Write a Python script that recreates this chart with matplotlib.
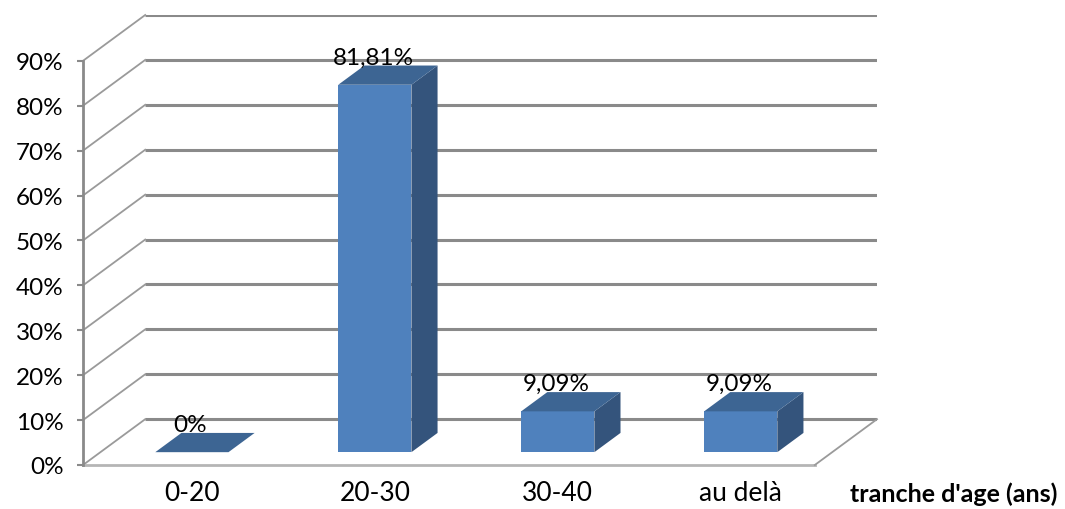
import matplotlib
matplotlib.use("Agg")
from matplotlib import pyplot as plt
from matplotlib.patches import Polygon

categories = ["0-20", "20-30", "30-40", "au delà"]
values = [0, 81.81, 9.09, 9.09]
value_labels = ["0%", "81,81%", "9,09%", "9,09%"]
yticks = [0, 10, 20, 30, 40, 50, 60, 70, 80, 90]
ytick_labels = ["0%", "10%", "20%", "30%", "40%", "50%", "60%", "70%", "80%", "90%"]
xlabel = "tranche d'age (ans)"

plt.rcParams['font.family'] = ['Lato', 'DejaVu Sans']

# fake 3D geometry (category units / percent units)
depth_x, depth_y = 0.34, 10.2
front_d, back_d = 0.28, 0.70
bar_w = 0.40
n = len(categories)

fig = plt.figure(figsize=(10.65, 5.10), dpi=100)
W, H = 1065, 510
ax = fig.add_axes([83 / W, (H - 466) / H, (877 - 83) / W, (466 - 16) / H])
ax.set_xlim(0, n + depth_x)
ax.set_ylim(0, 90 + depth_y)

grid_c = "#8a8a8a"
# back wall gridlines and side-wall diagonals
for t in yticks:
    ax.plot([depth_x, n + depth_x], [t + depth_y, t + depth_y], color=grid_c, lw=2.2, zorder=1,
            solid_capstyle="butt")
    ax.plot([0, depth_x], [t, t + depth_y], color="#9a9a9a", lw=1.3, zorder=1, clip_on=False)
# floor edges
ax.plot([0, n], [0, 0], color="#b5b5b5", lw=2, zorder=1, clip_on=False)
ax.plot([n, n + depth_x], [0, depth_y], color="#9a9a9a", lw=1.3, zorder=1, clip_on=False)

# bars
centers = [i + 0.5 + front_d * depth_x for i in range(n)]
fx, fy = front_d * depth_x, front_d * depth_y
bx, by = back_d * depth_x, back_d * depth_y
bars = ax.bar(centers, values, width=bar_w, bottom=fy, color="#4f81bd", zorder=3)
for b, v in zip(bars, values):
    x0 = b.get_x()
    x1 = x0 + b.get_width()
    y0 = fy
    y1 = fy + v
    ddx, ddy = bx - fx, by - fy
    side = Polygon([(x1, y0), (x1 + ddx, y0 + ddy), (x1 + ddx, y1 + ddy), (x1, y1)],
                   closed=True, facecolor="#34547c", edgecolor="none", zorder=2)
    top = Polygon([(x0, y1), (x0 + ddx, y1 + ddy), (x1 + ddx, y1 + ddy), (x1, y1)],
                  closed=True, facecolor="#3d6593", edgecolor="none", zorder=4)
    ax.add_patch(side)
    ax.add_patch(top)

for c, v, lab in zip(centers, values, value_labels):
    ax.annotate(lab, (c - 0.01, v + fy), xytext=(0, 20), textcoords="offset points",
                ha="center", va="center", fontsize=17.5, zorder=5)

# axes styling
for s in ["top", "right", "bottom"]:
    ax.spines[s].set_visible(False)
ax.spines["left"].set_bounds(0, 90)
ax.spines["left"].set_color(grid_c)
ax.spines["left"].set_linewidth(2)
ax.set_yticks(yticks, ytick_labels)
ax.tick_params(axis="y", length=4, width=1.5, color=grid_c, labelsize=17.5, pad=10)
ax.set_xticks(centers, categories)
ax.tick_params(axis="x", length=0, labelsize=19, pad=11)

fig.text(1057 / W, (H - 494) / H, xlabel, ha="right", va="center", fontsize=18, fontweight="bold")

fig.savefig("out.png", dpi=100)
